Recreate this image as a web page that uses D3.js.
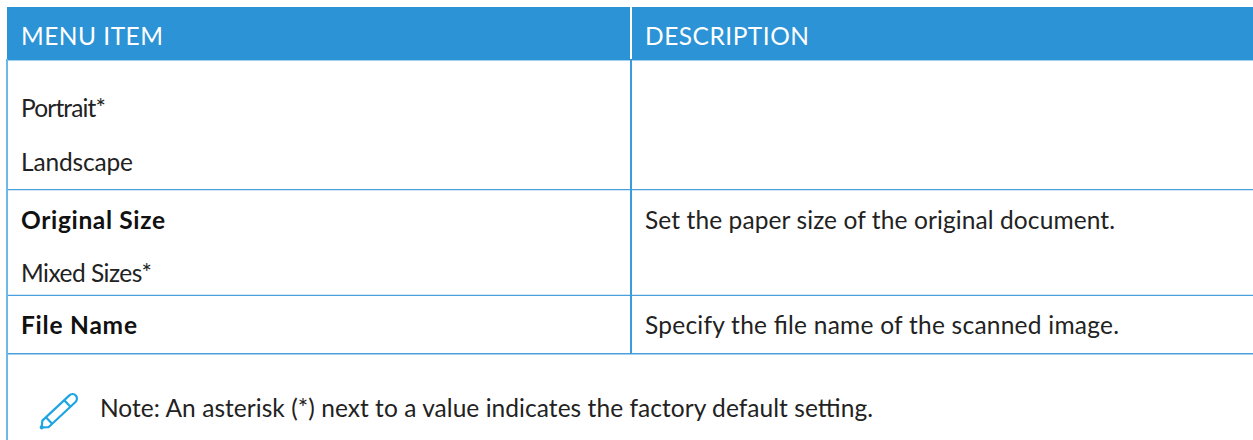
<!DOCTYPE html>
<html>
    <head>
        <title>Menu table</title>
        <meta charset="UTF-8">
        <script src="https://d3js.org/d3.v7.min.js"></script>
        <style>
            body { margin: 0; background: #fff; }
            svg { display: block; }
            text { font-family: Lato, sans-serif; font-size: 24.5px; fill: #222; }
            .head { fill: #fff; }
            .bold { font-weight: 700; fill: #111; }
        </style>
    </head>
    <body>
        <svg width="1253" height="440"></svg>
        <script>
            // table content
            var headers = ['MENU ITEM', 'DESCRIPTION'];
            var menuItems = ['Portrait*', 'Landscape', 'Original Size', 'Mixed Sizes*', 'File Name'];
            var menuBold = [false, false, true, false, true];
            var descriptions = ['Set the paper size of the original document.', 'Specify the file name of the scanned image.'];
            var note = 'Note: An asterisk (*) next to a value indicates the factory default setting.';

            var svg = d3.select('svg');

            // layout
            var left = 7, divider = 631, right = 1253,
                headTop = 7, headBottom = 60,
                rowLines = [189.6, 295.4, 353.7],
                textX = 21, descX = 645, noteX = 100,
                headY = 45, noteY = 417,
                menuY = [117, 171, 229, 282, 334],
                descY = [229, 334],
                // rendered widths, the font here is not the same one
                headW = [142, 164],
                menuW = [85, 112, 144, 131, 116],
                descW = [470, 474],
                noteW = 773;

            svg.append('rect')
                .attr('x', left).attr('y', headTop)
                .attr('width', right - left).attr('height', headBottom - headTop)
                .attr('fill', '#2b93d6');

            // white gap between the two header cells
            svg.append('line')
                .attr('x1', divider).attr('x2', divider)
                .attr('y1', headTop).attr('y2', headBottom - 1)
                .attr('stroke', '#fff').attr('stroke-width', 2);

            svg.append('line')
                .attr('x1', left).attr('x2', right)
                .attr('y1', 60.5).attr('y2', 60.5)
                .attr('stroke', '#a3d0ee').attr('stroke-width', 1);

            svg.selectAll('.row-line')
                .data(rowLines)
                .enter().append('line')
                .attr('class', 'row-line')
                .attr('x1', left).attr('x2', right)
                .attr('y1', function(d) { return d; }).attr('y2', function(d) { return d; })
                .attr('stroke', '#4aa0dc').attr('stroke-width', 1.4);

            svg.append('line')
                .attr('x1', 7).attr('x2', 7)
                .attr('y1', 59).attr('y2', 440)
                .attr('stroke', '#6db8e8').attr('stroke-width', 2);

            svg.append('line')
                .attr('x1', divider).attr('x2', divider)
                .attr('y1', 60).attr('y2', 354)
                .attr('stroke', '#3b9bdb').attr('stroke-width', 2);

            svg.selectAll('.head')
                .data(headers)
                .enter().append('text')
                .attr('class', 'head')
                .attr('x', function(d, i) { return i ? descX : textX; })
                .attr('y', headY)
                .attr('textLength', function(d, i) { return headW[i]; })
                .text(function(d) { return d; });

            svg.selectAll('.menu')
                .data(menuItems)
                .enter().append('text')
                .attr('class', function(d, i) { return menuBold[i] ? 'menu bold' : 'menu'; })
                .attr('x', textX)
                .attr('y', function(d, i) { return menuY[i]; })
                .attr('textLength', function(d, i) { return menuW[i]; })
                .text(function(d) { return d; });

            svg.selectAll('.desc')
                .data(descriptions)
                .enter().append('text')
                .attr('class', 'desc')
                .attr('x', descX)
                .attr('y', function(d, i) { return descY[i]; })
                .attr('textLength', function(d, i) { return descW[i]; })
                .text(function(d) { return d; });

            svg.append('text')
                .attr('x', noteX).attr('y', noteY)
                .attr('textLength', noteW)
                .text(note);

            // pencil icon
            var pencil = svg.append('g')
                .attr('transform', 'translate(41,428) rotate(-43)')
                .attr('fill', 'none')
                .attr('stroke', '#1ea5e2')
                .attr('stroke-width', 2.2)
                .attr('stroke-linejoin', 'round');
            pencil.append('path').attr('d', 'M6,-4.5 L43,-4.5 A4.5,4.5 0 0 1 43,4.5 L6,4.5 L1,0 Z');
            pencil.append('path').attr('d', 'M36,-4.5 L36,4.5');
            pencil.append('path').attr('d', 'M11,-4.5 L11,4.5');
            pencil.append('circle').attr('cx', 1).attr('cy', 0).attr('r', 1).attr('fill', '#1ea5e2');
        </script>
    </body>
</html>
